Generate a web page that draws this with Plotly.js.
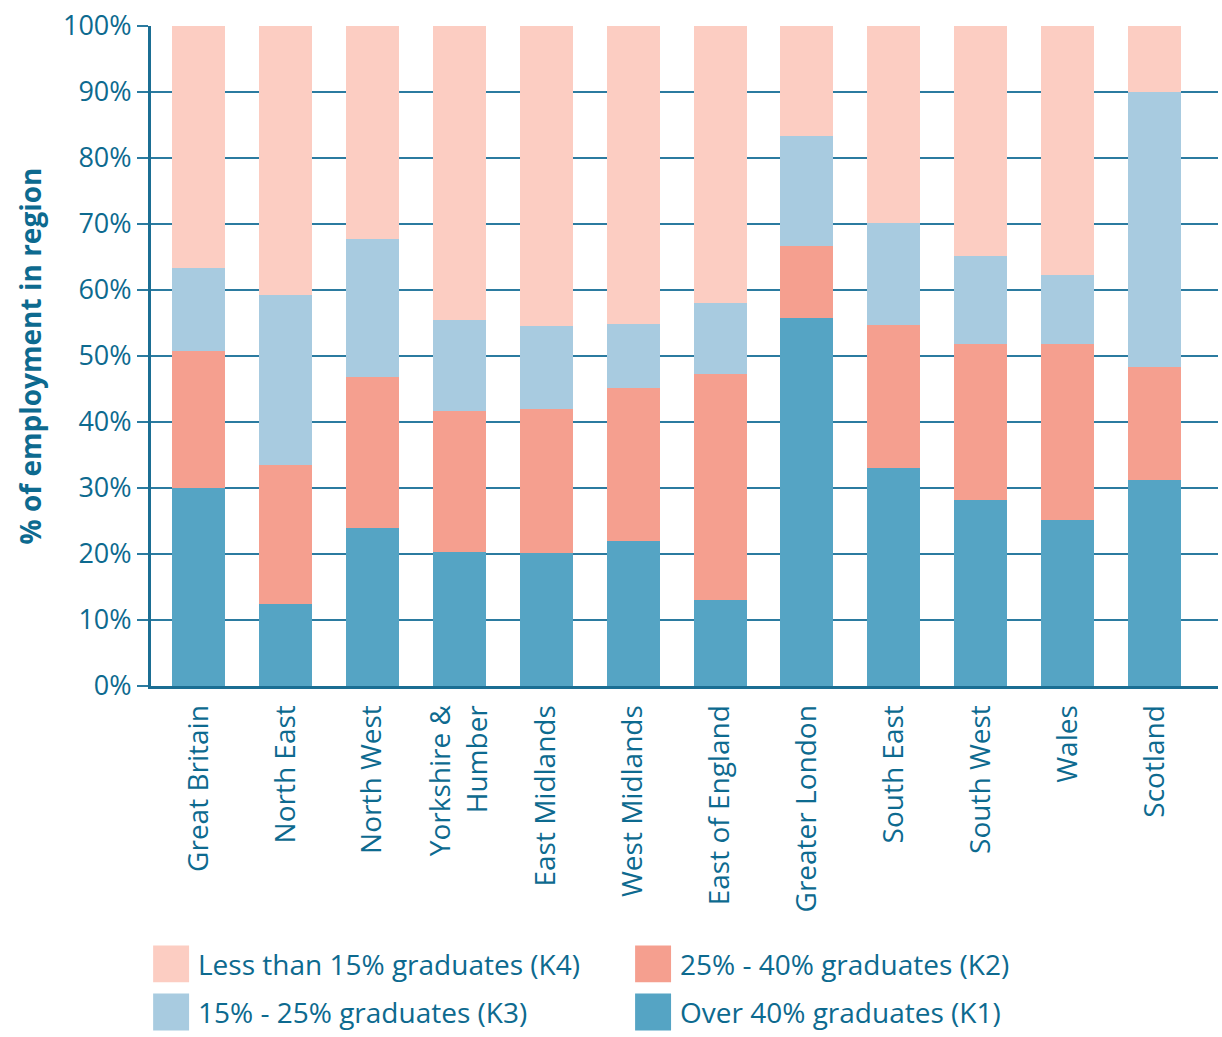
<!DOCTYPE html>
<html>
<head>
<meta charset="utf-8">
<script src="https://cdn.plot.ly/plotly-3.0.1.min.js"></script>
<style>
  html, body { margin: 0; padding: 0; background: #ffffff; }
  #chart { width: 1222px; height: 1037px; }
</style>
</head>
<body>
<div id="chart"></div>
<script>
// Regions shown along the x axis
const regions = [
  "Great Britain", "North East", "North West", "Yorkshire &<br>Humber",
  "East Midlands", "West Midlands", "East of England", "Greater London",
  "South East", "South West", "Wales", "Scotland"
];

// Share of employment (%) by graduate-density band
const over40 = [30.0, 12.4, 24.0, 20.3, 20.2, 21.9, 13.0, 55.8, 33.0, 28.2, 25.2, 31.2];
const from25to40 = [20.8, 21.1, 22.8, 21.3, 21.7, 23.3, 34.3, 10.8, 21.7, 23.6, 26.6, 17.2];
const from15to25 = [12.5, 25.7, 21.0, 13.9, 12.7, 9.7, 10.8, 16.8, 15.4, 13.4, 10.5, 41.6];
const under15 = [36.7, 40.8, 32.2, 44.5, 45.4, 45.1, 41.9, 16.6, 29.9, 34.8, 37.7, 10.0];

// Y axis ticks
const yTickValues = [0, 10, 20, 30, 40, 50, 60, 70, 80, 90, 100];
const yTickLabels = ["0%", "10%", "20%", "30%", "40%", "50%", "60%", "70%", "80%", "90%", "100%"];

// Band names, in stacking order (bottom to top)
const bandNames = [
  "Over 40% graduates (K1)",
  "25% - 40% graduates (K2)",
  "15% - 25% graduates (K3)",
  "Less than 15% graduates (K4)"
];
const bandValues = [over40, from25to40, from15to25, under15];
const bandColors = ["#55a4c4", "#f59f8f", "#a8cbe0", "#fccdc2"];

// Legend grid: [band index, column, row]
const legendLayout = [[3, 0, 0], [1, 1, 0], [2, 0, 1], [0, 1, 1]];

const ink = "#0d6a8f";
const fontFamily = "'Open Sans', 'Noto Sans', sans-serif";

const traces = bandNames.map((name, i) => ({
  type: "bar",
  name: name,
  x: regions.map((_, k) => k),
  y: bandValues[i],
  marker: { color: bandColors[i], line: { width: 0 } },
  showlegend: false,
  hoverinfo: "y+name"
}));

// Legend drawn as swatches + labels below the chart
const shapes = [];
const annotations = [];
const colX = [0.0, 0.4517];
const rowY = [-0.421, -0.494];
legendLayout.forEach(([band, col, row]) => {
  const x0 = colX[col];
  const yc = rowY[row];
  shapes.push({
    type: "rect", xref: "paper", yref: "paper",
    x0: x0 + 0.002, x1: x0 + 0.0357,
    y0: yc - 0.028, y1: yc + 0.028,
    fillcolor: bandColors[band], line: { width: 0 }
  });
  annotations.push({
    xref: "paper", yref: "paper",
    x: x0 + 0.042, y: yc,
    xanchor: "left", yanchor: "middle",
    text: bandNames[band], showarrow: false,
    font: { family: fontFamily, size: 28, color: ink }
  });
});

const layout = {
  width: 1222,
  height: 1037,
  margin: { l: 151, r: 4, t: 26, b: 351, pad: 0 },
  paper_bgcolor: "#ffffff",
  plot_bgcolor: "#ffffff",
  barmode: "stack",
  bargap: 0.39,
  showlegend: false,
  font: { family: fontFamily, color: ink, size: 24 },
  xaxis: {
    range: [-0.547, 11.73],
    tickmode: "array",
    tickvals: regions.map((_, k) => k),
    ticktext: regions,
    tickangle: -90,
    ticks: "",
    ticklabelstandoff: 5,
    showgrid: false,
    zeroline: false,
    showline: true,
    linecolor: "#1b6e93",
    linewidth: 3,
    tickfont: { family: fontFamily, size: 28, color: ink },
    fixedrange: true
  },
  yaxis: {
    range: [0, 100],
    tickmode: "array",
    tickvals: yTickValues,
    ticktext: yTickLabels,
    ticks: "outside",
    ticklen: 11,
    tickwidth: 2,
    tickcolor: "#2b7ba0",
    showgrid: true,
    gridcolor: "#2b7ba0",
    gridwidth: 2,
    zeroline: false,
    showline: true,
    linecolor: "#1b6e93",
    linewidth: 3,
    tickfont: { family: fontFamily, size: 27, color: ink },
    title: {
      text: "<b>% of employment in region</b>",
      font: { family: fontFamily, size: 28, color: ink },
      standoff: 14
    },
    fixedrange: true
  },
  shapes: shapes,
  annotations: annotations
};

Plotly.newPlot("chart", traces, layout, { displayModeBar: false, staticPlot: true });
</script>
</body>
</html>
